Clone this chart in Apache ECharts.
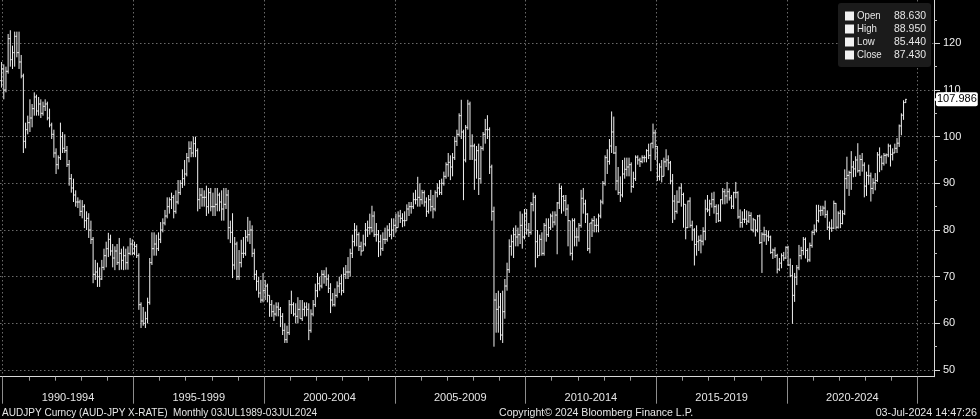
<!DOCTYPE html>
<html><head><meta charset="utf-8">
<script src="https://cdn.jsdelivr.net/npm/echarts@6/dist/echarts.min.js"></script>
<style>html,body{margin:0;padding:0;background:#000;overflow:hidden}#c{width:980px;height:419px}</style>
</head><body><div id="c"></div>
<script>
// First bar: Jul 1989, monthly bars to Jul 2024
const startYear = 1989, startMonth = 7;
const open = [
104.5,107.5,109,107.5,110.5,112,
114.5,110,114,121,116.5,118,121.5,118,116,113,99,101.5,
103,104,106,108.5,105.5,107,105,106.5,107,104,102.5,100.5,
96.5,94,95.5,100,97.5,97,94,91,89,87.5,86,86,
84,85,82,82.5,80,78,70.5,71,70,69.5,72,74.5,
76,78,75.5,74,75.5,73,75,73.5,74.5,73,75,77,
75,76.5,74.5,64,60.5,60,61,64.5,73,76,77,76,
78,80,81.5,83,85,86.5,87,84,86,88,90,91,
92,95.5,97.5,96.5,98.5,97,86.5,87.5,87,87,85,88,
85,85,85.5,87.5,86,84.5,85.5,87.5,80.5,79.5,72.5,77,
70,73,75,75,78.5,79,80,75,70.5,69,66.5,65,
67,68,66,64,62.5,62,63.5,63,61.5,58.5,56.5,58,
64,64,62,61.5,63,61,63,63.5,63,58.5,62,64,
67,68.5,68,70.5,70,69.5,67.5,65,64,66,68,68.5,
67,70.5,71,71,75,77.5,80,79,76.5,75.5,77,80,
80.5,80.5,83,79,79,77.5,76,78,78,80,79,80,
81,80.5,83,82.5,82,82,84.5,85,85,86.5,86.5,87,
86.5,88,86,84,86.5,85,84.5,88,89,88,90,91.5,
94,94.5,93.5,95.5,99,100.5,104.5,101,95,102,107,98,
98,95,97,91,97.5,100.5,101.5,101.5,93.5,84,65,63,
63.5,57.5,62.5,68,71.5,76.5,77.5,79,78.5,79,81,78.5,
83.5,80,79.5,85.5,87,77.5,74.5,78,75,81,79,80.5,
83,81.7,83.2,85.8,88.9,87.2,86.3,84.5,82,75,82,78.5,
78.5,81,86.8,85.6,83.4,76,81.5,82,81,81,83,86,
90,95.5,94.7,98,101,96.5,90.5,88,87.5,92,93,93.5,
94,89.3,91,95.6,95,94.7,95.5,95.5,97,96,98.6,100.8,
97.9,91.5,93.5,91.5,94.6,95,94.4,90.5,86.2,84,86,89,
87.6,85.5,80.5,86.2,81,80,76.9,77.5,77.8,77.6,79.7,84.5,
84.3,85.6,86.5,85,83.5,82,86.5,88.2,87.3,88.2,86.9,85.1,
88,88,82.8,81.6,82.3,82.3,81.9,83.1,80,82.2,80,83,
77.3,79.1,79,78.7,78.5,75.2,75.7,74.5,71.6,72.9,74.5,74,
76.3,72.5,70.2,66,69.9,71.9,74.5,75.6,78,75.6,73.6,76.7,
79.5,80,82,84.1,84.2,84.7,83.3,80.6,80.4,80.4,85.7,80.6,
83.6,81.4,83.5,91,91.7,92.3,93.5,93.1,95,92.7,95.1,93.9,
89.4,91.7,91.6,88.9,90.1,90.6,96.1,95.6,94.3,96,96.1,98,
96.2,96.5,97.5,98.6,102.3,104.6,107.3
];
const high = [
108.5,110.5,111,111,114,116,
115.5,115,122,122.8,119.5,122.5,122.5,122.5,117.5,113.5,103,104.5,
108,107,109.5,109,108.5,108,107.5,108,107.5,106,103,101.5,
97.5,96,103,101,100.5,98,95,92,91,88.5,87,86.5,
86.4,85.5,84,83.6,82,78.5,73.6,73,72,73.6,76,77.5,
79.4,79,77,76.5,77,78.3,76,76.5,76,76.5,78.3,78,
77.5,77,75,64.5,63.5,62.5,65.5,74,79.5,79.5,79,79.5,
81.7,82.5,84.3,87,87,88,87.5,88.5,90.7,90.7,93,95,
96.5,99,99,100,100,97.5,89,89,88.5,89.5,89,89,
88,89,89,88,88.5,89,89,88.6,82,83.6,78.5,77.5,
75.7,77.9,78.5,80,82.8,82,81,76,71.4,70,69.3,70.8,
69.3,68.5,66,65,64,64.5,64.5,63.5,62.2,60,59.5,65,
67,64.5,64.3,65.6,65,65,64.5,64.5,64.3,63,65,68.5,
70.8,70,71.4,71.4,72,70.5,68.6,66.5,67.5,69,70,70.5,
72,72.5,74.2,76,79,81.5,81,79.5,77.5,79,81.5,82,
83.5,85.2,84,81.5,80,79,79.5,80.5,81,81.5,82.5,82.5,
83.5,84,84.3,83.6,84,85.5,86,86,88,88.6,91.4,90,
88.6,88.5,87,87.5,88.6,87.5,88.5,90,90.7,91,92.5,94.5,
96.5,96,96.5,100,101.5,105,107.9,101.5,102.5,107.9,107.5,100.5,
98.5,98,98.5,98,101,103.8,104.6,102,94,85,66.5,67,
66.5,67,69.5,73,78,79,80.5,81,80.5,84,83.5,84.5,
84.5,81.5,86,88,87.5,80,79,79.5,81.5,82.5,82.5,83.5,
84,84,86,90,89.5,87.5,87.5,85.5,82,82.5,82.5,80.5,
81.5,88.6,89,86.5,83.6,81.5,82.5,83,82.5,83.5,86.5,90.5,
96,97.3,99.5,105.4,104.3,98,93.5,91.5,95,95.5,95.5,95.5,
94.5,92.5,96,96,95.5,96,96,97.3,98.5,98.6,102.8,101.5,
98,94.3,95,95.5,97.3,96,94.8,92,87.5,88.5,89.3,90,
88,85.5,86.3,87,82,80.4,81,78.8,79,80.6,86.5,87.5,
86.5,88,88.2,85.5,85.5,86.6,89,88.8,90.3,88.9,87.5,88.2,
90.3,88.3,84.4,84,84.5,84.2,84,83.8,82.6,82.2,83.2,83.3,
79.5,80.7,80,79.8,78.8,76,76.3,74.9,74,75,75.3,76.5,
76.6,73.9,72.5,70.8,72.5,76.8,76.4,78.5,78.4,76.1,77.3,79.8,
81.2,85.4,85.4,85.2,85.2,86.3,84.2,81.8,82.3,86.3,85.8,84,
84.3,84.2,93,95.7,92.7,96.9,94.8,95.8,98.6,96.1,96.5,94.5,
92.5,94,92.3,91.1,92.2,96.7,97.7,96,96.5,96.4,98.5,98.3,
97.5,98.5,99.7,102.6,105,107.8,108.1
];
const low = [
103,105.5,106,106.5,108,110.5,
108,109.5,113.5,115,114.5,115,117,114.5,112.5,96.5,97.5,100.5,
101,102,104.5,104.5,104.5,104,104.5,105.5,103.5,102,99.5,95.5,
92,93,95,96.5,96.5,93.5,89.5,88,86,85,84.7,83,
82.5,80.4,80,78.3,77,68.6,69.3,67.8,67.8,69.3,71.4,72,
74.2,74.5,72,71.4,72.5,71.4,71.5,71.4,71.5,71.5,74.6,74.6,
74.6,74,62.9,59,59.5,59,60,64,72.5,74.5,74.5,75.5,
77.2,79.5,81,82.5,83.5,84.5,82.5,83.5,85.5,87.5,89,89.5,
91.5,94.5,95.6,95.6,95.6,84,84.5,85,85,83,83.5,84,
83,83,84,84,82,82,84.5,78,77.2,69.7,71.5,69.3,
69.3,72,74,74.5,77.5,77,74.2,69.3,67,65.5,64.4,64.5,
65,64.5,61.4,61.4,60.5,61.5,61.5,59.2,57.5,55.8,55.8,57.5,
62,61.5,60,60,61,60.5,61.5,61.5,56.4,58,61.5,63.5,
65.6,67,67.5,68.5,68,66.5,62.2,63.6,63.6,65.5,66.5,66,
66.5,69.5,69.5,70,74,76.5,76.5,75.5,74.5,75.5,76.5,78.5,
79,79.5,78.5,77.5,74.2,74.5,75.5,77,77.5,78.5,78,78.5,
79.5,80.5,81.5,80.6,80.8,82,83,83.5,84.5,85.5,85,85,
85.5,85,82.8,83.5,84,82.5,84,87,87.5,87.5,89.5,91,
91.4,90.7,91.5,95,98,100,99.5,86.4,94.5,101.5,95,95,
88.6,91,87.5,90,97,98.5,99.5,92,82,55,58,58,
56.4,55.8,61,67,70.8,74.5,74,76.5,76.5,77,76,78,
79,78.5,79,84,72,74,74.5,74.5,74.5,77.5,78.5,80,
80.5,81,74.8,84.5,83.5,84,83,76.5,74.5,73.5,76.5,76.5,
77.5,80.5,83.5,81.5,75.5,75,78.5,79.5,79.5,79.5,82.5,85.5,
89.5,92,94,96.5,96.3,88.5,87.5,86,87,91,91.5,91.5,
88,89,90.5,94,93.5,94.3,94.5,94.5,95.2,92.6,97.5,95,
90.5,90.6,90.2,91.5,93.5,92.8,89.8,81.5,82.2,83.5,85.8,85,
80.5,78,80.4,80.5,77.7,72.4,74.5,75.5,75,76.7,77.8,83.8,
83,84.8,83.5,81.5,81.7,81.8,85.5,85.5,85.7,86.3,84.5,84.5,
86.8,82.4,80.5,80.5,81.5,81.1,81.5,79.9,79.5,78.6,79.5,77,
70.8,77.5,76.8,77.6,74.9,73.8,74,70.7,71.2,71.8,73.4,73.8,
72.3,69.9,59.9,64.6,68.2,71.4,73.7,74.6,73.9,73.1,73.2,76.2,
78.9,79.5,81.6,83,83.1,82.6,80,77.9,79.6,80.2,80.1,80.3,
80.4,81.2,83.2,88.8,87.3,88.6,91.3,91.4,92.3,91.6,92.5,87,
87.3,89.7,86.1,87.7,88.5,90.3,92.4,92.8,93.8,94.2,95.6,93.6,
94.9,96.5,96.5,97.8,100.3,103.6,107.2
];
const close = [
107.5,109,107.5,110.5,112,114.5,
110,114,121,116.5,118,121.5,118,116,113,99,101.5,103,
104,106,108.5,105.5,107,105,106.5,107,104,102.5,100.5,96.5,
94,95.5,100,97.5,97,94,91,89,87.5,86,86,84,
85,82,82.5,80,78,70.5,71,70,69.5,72,74.5,76,
78,75.5,74,75.5,73,75,73.5,74.5,73,75,77,75,
76.5,74.5,64,60.5,60,61,64.5,73,76,77,76,78,
80,81.5,83,85,86.5,87,84,86,88,90,91,92,
95.5,97.5,96.5,98.5,97,86.5,87.5,87,87,85,88,85,
85,85.5,87.5,86,84.5,85.5,87.5,80.5,79.5,72.5,77,70,
73,75,75,78.5,79,80,75,70.5,69,66.5,65,67,
68,66,64,62.5,62,63.5,63,61.5,58.5,56.5,58,64,
64,62,61.5,63,61,63,63.5,63,58.5,62,64,67,
68.5,68,70.5,70,69.5,67.5,65,64,66,68,68.5,67,
70.5,71,71,75,77.5,80,79,76.5,75.5,77,80,80.5,
80.5,83,79,79,77.5,76,78,78,80,79,80,81,
80.5,83,82.5,82,82,84.5,85,85,86.5,86.5,87,86.5,
88,86,84,86.5,85,84.5,88,89,88,90,91.5,94,
94.5,93.5,95.5,99,100.5,104.5,101,95,102,107,98,98,
95,97,91,97.5,100.5,101.5,101.5,93.5,84,65,63,63.5,
57.5,62.5,68,71.5,76.5,77.5,79,78.5,79,81,78.5,83.5,
80,79.5,85.5,87,77.5,74.5,78,75,81,79,80.5,83,
81.7,83.2,85.8,88.9,87.2,86.3,84.5,82,75,82,78.5,78.5,
81,86.8,85.6,83.4,76,81.5,82,81,81,83,86,90,
95.5,94.7,98,101,96.5,90.5,88,87.5,92,93,93.5,94,
89.3,91,95.6,95,94.7,95.5,95.5,97,96,98.6,100.8,97.9,
91.5,93.5,91.5,94.6,95,94.4,90.5,86.2,84,86,89,87.6,
85.5,80.5,86.2,81,80,76.9,77.5,77.8,77.6,79.7,84.5,84.3,
85.6,86.5,85,83.5,82,86.5,88.2,87.3,88.2,86.9,85.1,88,
88,82.8,81.6,82.3,82.3,81.9,83.1,80,82.2,80,83,77.3,
79.1,79,78.7,78.5,75.2,75.7,74.5,71.6,72.9,74.5,74,76.3,
72.5,70.2,66,69.9,71.9,74.5,75.6,78,75.6,73.6,76.7,79.5,
80,82,84.1,84.2,84.7,83.3,80.6,80.4,80.4,85.7,80.6,83.6,
81.4,83.5,91,91.7,92.3,93.5,93.1,95,92.7,95.1,93.9,89.4,
91.7,91.6,88.9,90.1,90.6,96.1,95.6,94.3,96,96.1,98,96.2,
96.5,97.5,98.6,102.3,104.6,107.3,107.986
];
const yTicks = [50,60,70,80,90,100,110,120];
const yMinorTicks = [55,65,75,85,95,105,115,125];
const yearTicks = [1990,1991,1992,1993,1994,1995,1996,1997,1998,1999,2000,2001,2002,2003,2004,2005,2006,2007,2008,2009,2010,2011,2012,2013,2014,2015,2016,2017,2018,2019,2020,2021,2022,2023,2024,2025];
const periodStarts = [1990,1995,2000,2005,2010,2015,2020,2025];
const periodLabels = ['1990-1994','1995-1999','2000-2004','2005-2009','2010-2014','2015-2019','2020-2024'];
const legendLabels = ['Open','High','Low','Close'];
const legendValues = ['88.630','88.950','85.440','87.430'];
const lastPrice = 107.986;
const footerLeft = 'AUDJPY Curncy (AUD-JPY X-RATE)  Monthly 03JUL1989-03JUL2024';
const footerMid = 'Copyright\u00A9 2024 Bloomberg Finance L.P.';
const footerRight = '03-Jul-2024 14:47:26';

const F = "'Liberation Sans',Arial,sans-serif";
const xMin = 1989.897, xMax = 2025.623;
const yMin = 48.57, yMax = 129.28;

const bars = open.map((o, i) => {
  const t = startMonth - 1 + i;
  const yr = startYear + Math.floor(t / 12);
  const mo = t % 12;
  return [yr + (mo + 0.5) / 12, o, high[i], low[i], close[i]];
});
const periodCenters = periodLabels.map((_, k) => periodStarts[k] + 2.5);

const chart = echarts.init(document.getElementById('c'), null, {renderer: 'canvas'});
const legendChildren = [
  {type: 'rect', z: 100, shape: {x: 0, y: 0, width: 93, height: 64, r: 3}, style: {fill: '#1b1b1b'}}
];
legendLabels.forEach((lab, k) => {
  const cy = 13 + k * 13;
  legendChildren.push({type: 'rect', z: 101, shape: {x: 7, y: cy - 4.5, width: 9, height: 9}, style: {fill: '#f2f2f2'}});
  legendChildren.push({type: 'text', z: 101, x: 19, y: cy, scaleX: 0.88, style: {text: lab, fill: '#e6e6e6', font: '11px ' + F, textVerticalAlign: 'middle'}});
  legendChildren.push({type: 'text', z: 101, x: 88, y: cy, scaleX: 0.95, style: {text: legendValues[k], fill: '#e6e6e6', font: '11px ' + F, textAlign: 'right', textVerticalAlign: 'middle'}});
});

chart.setOption({
  backgroundColor: '#000',
  animation: false,
  grid: {left: 0, right: 46, top: 0, bottom: 42.3, outerBoundsMode: 'none', containLabel: false},
  xAxis: [{
    type: 'value', min: xMin, max: xMax, position: 'bottom',
    axisLine: {show: true, lineStyle: {color: '#d8d8d8', width: 1}},
    axisTick: {show: true, customValues: yearTicks, length: 4, lineStyle: {color: '#9a9a9a'}},
    axisLabel: {show: true, customValues: periodCenters, margin: 16, color: '#e6e6e6', fontSize: 11, fontFamily: F,
      formatter: v => periodLabels[Math.round((v - periodCenters[0]) / 5)]},
    splitLine: {show: false}
  }, {
    type: 'value', min: xMin, max: xMax, position: 'bottom',
    axisLine: {show: false},
    axisTick: {show: true, customValues: periodStarts, length: 27, lineStyle: {color: '#8c8c8c'}},
    axisLabel: {show: false},
    splitLine: {show: true, lineStyle: {color: '#6a6a6a', type: [1.5, 2.5], width: 1}}
  }],
  yAxis: [{
    type: 'value', min: yMin, max: yMax, position: 'right',
    axisLine: {show: true, lineStyle: {color: '#d8d8d8', width: 1}},
    axisTick: {show: true, customValues: yTicks, length: 6, lineStyle: {color: '#d8d8d8'}},
    axisLabel: {customValues: yTicks, margin: 9, color: '#eeeeee', fontSize: 11, fontFamily: F},
    splitLine: {show: true, lineStyle: {color: '#6a6a6a', type: [1.5, 2.5], width: 1}}
  }, {
    type: 'value', min: yMin, max: yMax, position: 'right',
    axisLine: {show: false},
    axisTick: {show: true, customValues: yMinorTicks, length: 3, lineStyle: {color: '#bdbdbd'}},
    axisLabel: {show: false},
    splitLine: {show: false}
  }],
  series: [{
    type: 'custom',
    name: 'AUDJPY',
    clip: true,
    xAxisIndex: 0, yAxisIndex: 0,
    dimensions: ['t', 'open', 'high', 'low', 'close'],
    encode: {x: 0, y: [1, 2, 3, 4]},
    data: bars,
    renderItem: (params, api) => {
      const t = api.value(0);
      const o = api.coord([t, api.value(1)]);
      const h = api.coord([t, api.value(2)]);
      const l = api.coord([t, api.value(3)]);
      const c = api.coord([t, api.value(4)]);
      const st = {stroke: '#f0f0f0', lineWidth: 1};
      return {type: 'group', children: [
        {type: 'line', shape: {x1: h[0], y1: h[1], x2: l[0], y2: l[1]}, style: st},
        {type: 'line', shape: {x1: o[0] - 1.1, y1: o[1], x2: o[0], y2: o[1]}, style: st},
        {type: 'line', shape: {x1: c[0], y1: c[1], x2: c[0] + 1.1, y2: c[1]}, style: st}
      ]};
    },
    markLine: {
      silent: true,
      symbol: ['none', 'none'],
      lineStyle: {color: 'transparent', width: 0},
      label: {show: true, position: 'end', distance: 2, formatter: lastPrice.toFixed(3),
        backgroundColor: '#ffffff', color: '#000000', padding: [2, 1, 1, 1], borderRadius: 2,
        fontSize: 11, fontFamily: F},
      data: [{yAxis: lastPrice}]
    },
    markPoint: {
      silent: true,
      symbol: 'triangle', symbolSize: [7, 4], symbolRotate: 90, symbolOffset: [2, 0],
      itemStyle: {color: '#ffffff'},
      label: {show: false},
      data: [{coord: [xMax, lastPrice]}]
    }
  }],
  graphic: [
    {type: 'group', left: 838, top: 3, z: 100, children: legendChildren},
    {type: 'text', x: 2, y: 413, scaleX: 0.913, style: {text: footerLeft, fill: '#e6e6e6', font: '11px ' + F, textVerticalAlign: 'middle'}},
    {type: 'text', x: 499, y: 413, scaleX: 0.96, style: {text: footerMid, fill: '#e6e6e6', font: '11px ' + F, textVerticalAlign: 'middle'}},
    {type: 'text', x: 977, y: 413, scaleX: 0.975, style: {text: footerRight, fill: '#e6e6e6', font: '11px ' + F, textAlign: 'right', textVerticalAlign: 'middle'}}
  ]
});
</script>
</body></html>
